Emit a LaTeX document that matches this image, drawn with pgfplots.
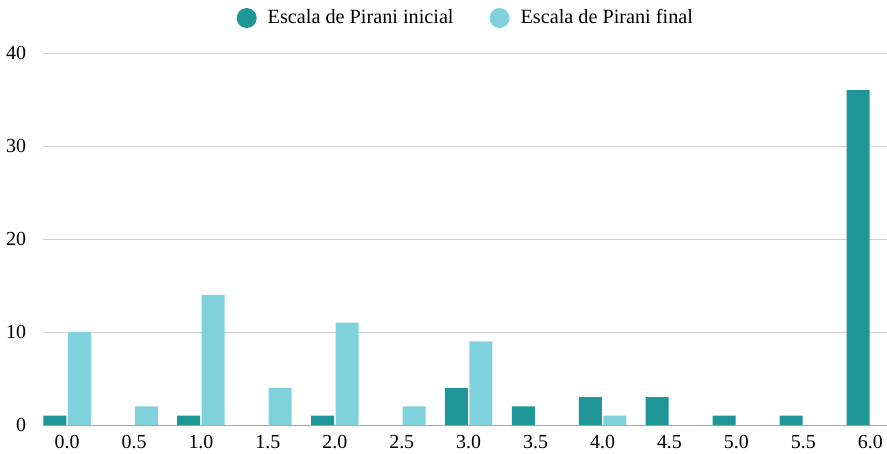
\documentclass[border=0pt]{standalone}
\usepackage{pgfplots}
\pgfplotsset{compat=1.18}
\usepackage{fontspec}
\setmainfont{Liberation Serif}
\definecolor{initc}{HTML}{1E9698}
\definecolor{finc}{HTML}{7FD2DC}
\definecolor{gridc}{HTML}{D0D0D0}

\begin{document}
\begin{tikzpicture}
\fontsize{20.3}{24}\selectfont
\useasboundingbox (-43bp,-29bp) rectangle (844bp,425bp);
\begin{axis}[
    scale only axis,
    width=844bp, height=372bp,
    ybar=1.5bp, bar width=23bp,
    xmin=-0.36, xmax=12.25,
    ymin=0, ymax=40,
    xtick={0,...,12},
    xticklabels={0.0,0.5,1.0,1.5,2.0,2.5,3.0,3.5,4.0,4.5,5.0,5.5,6.0},
    ytick={0,10,20,30,40},
    ymajorgrids,
    grid style={gridc, line width=0.8pt},
    axis x line*=bottom,
    axis y line*=left,
    y axis line style={draw=none},
    x axis line style={gray!70, line width=0.8pt, -},
    major tick length=0pt,
    tick style={draw=none},
    xticklabel style={yshift=-2bp, text height=1.6ex, text depth=0.2ex},
    yticklabel style={anchor=east, xshift=-10bp},
    ticklabel style={font=\fontsize{20}{24}\selectfont},
    /pgf/number format/assume math mode=true,
    legend columns=2,
    legend style={at={(0.501,1.094)}, anchor=center, draw=none, fill=none,
        font=\fontsize{20.3}{24}\selectfont,
        /tikz/every even column/.append style={column sep=34bp}},
]
\addplot[fill=initc, draw=none,
    legend image code/.code={\fill[initc] (0bp,0bp) circle (10bp); \path (19bp,0bp);}]
    coordinates {(0,1) (1,0) (2,1) (3,0) (4,1) (5,0) (6,4) (7,2) (8,3) (9,3) (10,1) (11,1) (12,36)};
\addlegendentry{Escala de Pirani inicial}
\addplot[fill=finc, draw=none,
    legend image code/.code={\fill[finc] (0bp,0bp) circle (10bp); \path (19bp,0bp);}]
    coordinates {(0,10) (1,2) (2,14) (3,4) (4,11) (5,2) (6,9) (7,0) (8,1) (9,0) (10,0) (11,0) (12,0)};
\addlegendentry{Escala de Pirani final}
\end{axis}
\end{tikzpicture}
\end{document}
